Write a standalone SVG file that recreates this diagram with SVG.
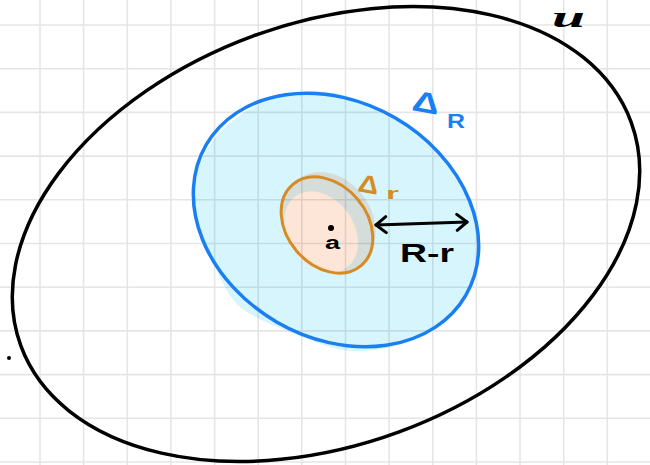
<svg xmlns="http://www.w3.org/2000/svg" width="650" height="465" viewBox="0 0 650 465">
  <style>
    .grid { stroke: #000; stroke-opacity: 0.1; stroke-width: 1.6; fill: none; }
    .ink { font-family: "Liberation Sans", Arial, sans-serif; font-weight: bold; }
    .outline { fill: none; stroke-linecap: round; }
  </style>
  <defs>
    <marker id="chev" markerUnits="userSpaceOnUse" viewBox="0 0 14 20" refX="12" refY="10" markerWidth="14" markerHeight="20" orient="auto-start-reverse">
      <path d="M2,2 L12,10 L2,18" fill="none" stroke="#000" stroke-width="3" stroke-linecap="round" stroke-linejoin="round"/>
    </marker>
  </defs>
  <rect x="0" y="0" width="650" height="465" fill="#ffffff"/>

  <!-- fills -->
  <g id="disc-R-fill">
    <path d="M287,94.5 Q322,86 359.5,100 Q397,114 426.5,140.5 Q456,167 469.5,200.5 Q483,234 476.5,266 Q470,298 446,319 Q422,340 387,348 Q352,356 322,344.5 Q292,333 273.5,325.5 Q255,318 242.5,309 Q230,300 219,275 Q208,250 199.5,227.5 Q191,205 196.5,176.5 Q202,148 227,125.5 Q252,103 287,94.5 Z" fill="#d7f5fc"/>
  </g>
  <g id="disc-r-fill">
    <ellipse cx="329" cy="222" rx="53" ry="43" transform="rotate(55 329 222)" fill="#d4ddd9"/>
    <ellipse cx="321" cy="232" rx="44" ry="33" transform="rotate(55 321 232)" fill="#fde5d8"/>
  </g>

  <!-- grid -->
  <g id="grid">
    <path class="grid" d="M40,0V465 M83.6,0V465 M127.3,0V465 M170.9,0V465 M214.6,0V465 M258.2,0V465 M301.8,0V465 M345.5,0V465 M389.1,0V465 M432.8,0V465 M476.4,0V465 M520,0V465 M563.7,0V465 M607.3,0V465 M0,25H650 M0,68.7H650 M0,112.4H650 M0,156.1H650 M0,199.8H650 M0,243.5H650 M0,287.2H650 M0,330.9H650 M0,374.6H650 M0,418.3H650 M0,462H650"/>
  </g>

  <g id="set-u">
    <ellipse class="outline" cx="326" cy="234" rx="325" ry="211" transform="rotate(-20.1 326 234)" stroke="#000" stroke-width="3.5"/>
    <text x="552" y="27" font-family="Liberation Serif, serif" font-weight="bold" font-style="italic" font-size="29" textLength="33" lengthAdjust="spacingAndGlyphs" fill="#000">u</text>
  </g>

  <g id="disc-R">
    <ellipse class="outline" cx="336" cy="220" rx="150" ry="118" transform="rotate(30 336 220)" stroke="#1a7ff2" stroke-width="3.5"/>
    <text class="ink" transform="translate(411,110) rotate(10) scale(1.3,1)" font-size="29" fill="#1a7ff2">Δ</text>
    <text class="ink" x="447" y="128" font-size="21" textLength="18" lengthAdjust="spacingAndGlyphs" fill="#1a7ff2">R</text>
  </g>

  <g id="disc-r">
    <ellipse class="outline" cx="327" cy="225" rx="53" ry="40" transform="rotate(50 327 225)" stroke="#d68c24" stroke-width="3"/>
    <text class="ink" transform="translate(357,191) rotate(10) scale(1.15,1)" font-size="25" fill="#d68c24">Δ</text>
    <text class="ink" x="386" y="199" font-size="16" textLength="13" lengthAdjust="spacingAndGlyphs" fill="#d68c24">r</text>
  </g>

  <g id="point-a">
    <circle cx="331" cy="228" r="3" fill="#000"/>
    <text class="ink" x="325" y="249" font-size="18" textLength="15" lengthAdjust="spacingAndGlyphs" fill="#000">a</text>
  </g>

  <g id="stray-dot">
    <circle cx="9" cy="358" r="2" fill="#000"/>
  </g>

  <g id="connectors">
    <line x1="376" y1="225" x2="467" y2="222" stroke="#000" stroke-width="3" stroke-linecap="round" marker-start="url(#chev)" marker-end="url(#chev)"/>
    <text class="ink" x="400" y="262" font-size="26" textLength="54" lengthAdjust="spacingAndGlyphs" fill="#000">R-r</text>
  </g>
</svg>
